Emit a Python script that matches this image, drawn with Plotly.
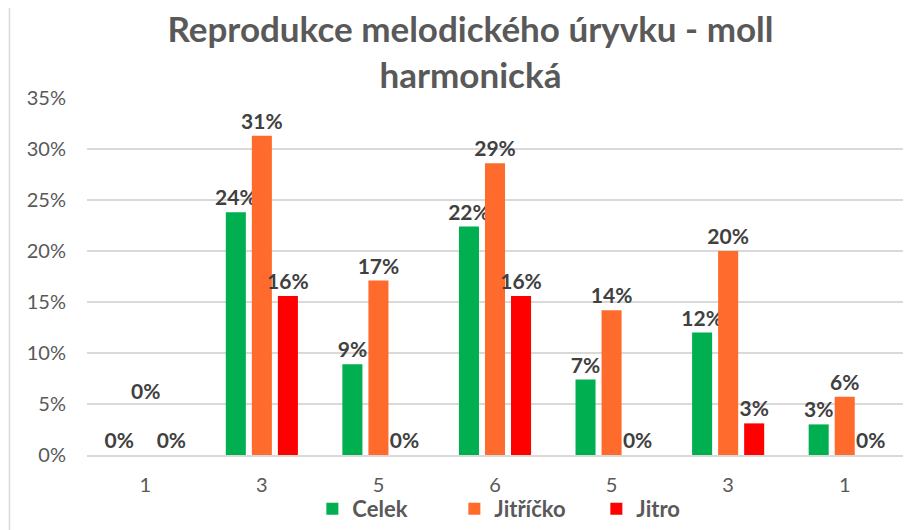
import plotly.graph_objects as go

GREEN = "#00B050"
ORANGE = "#FF6B2C"
RED = "#FF0000"
TEXT_GREY = "#595959"
LABEL_GREY = "#404040"
GRID_GREY = "#D9D9D9"

TONES = ["1", "3", "5", "6", "5", "3", "1"]
CELEK = [0.0, 0.238, 0.089, 0.224, 0.074, 0.120, 0.030]
JITRICKO = [0.0, 0.313, 0.171, 0.286, 0.142, 0.200, 0.057]
JITRO = [0.0, 0.156, 0.0, 0.156, 0.0, 0.031, 0.0]

positions = list(range(len(TONES)))
label_font = dict(size=21, color=LABEL_GREY, family="Lato", weight="bold")

fig = go.Figure()

for name, values, color in [("Celek", CELEK, GREEN),
                            ("Jitříčko", JITRICKO, ORANGE),
                            ("Jitro", JITRO, RED)]:
    labels = [f"{v:.0%}" for v in values]
    if name == "Jitříčko":
        # Excel lifted this one label out of the crowd of zeros
        labels[0] = ""
    fig.add_trace(go.Bar(x=positions,
                         y=values,
                         name=name,
                         marker=dict(color=color, line=dict(width=0)),
                         text=labels,
                         textposition="outside",
                         textfont=label_font,
                         cliponaxis=False))

fig.add_annotation(x=positions[0], y=JITRICKO[0],
                   text=f"{JITRICKO[0]:.0%}",
                   showarrow=False,
                   yanchor="bottom",
                   yshift=50,
                   font=label_font)

# the page body keeps its default 8px margin, so the figure is 8px smaller
fig.update_layout(
    width=914,
    height=522,
    plot_bgcolor="white",
    paper_bgcolor="white",
    font=dict(family="Lato", color=TEXT_GREY),
    title=dict(text="<b>Reprodukce melodického úryvku - moll<br>harmonická</b>",
               x=0.506,
               xanchor="center",
               yref="container",
               y=0.934,
               yanchor="middle",
               font=dict(size=35, color=TEXT_GREY, family="Lato")),
    barmode="group",
    bargap=0.33,
    bargroupgap=0.23,
    margin=dict(l=79, r=19, t=90, b=75, autoexpand=False),
    showlegend=True,
    legend=dict(orientation="h",
                xref="container",
                x=0.333,
                xanchor="left",
                yref="container",
                y=0.0,
                yanchor="bottom",
                bgcolor="rgba(0,0,0,0)",
                font=dict(size=22, color=TEXT_GREY, family="Lato", weight="bold"),
                itemwidth=30,
                entrywidth=97,
                tracegroupgap=0),
    uniformtext=dict(minsize=21, mode="show"))

fig.update_xaxes(tickmode="array",
                 tickvals=positions,
                 ticktext=TONES,
                 range=[-0.5, len(TONES) - 0.5],
                 showgrid=False,
                 showline=True,
                 linecolor=GRID_GREY,
                 linewidth=1.5,
                 ticks="",
                 tickfont=dict(size=20, color=TEXT_GREY),
                 ticklabelstandoff=11)

fig.update_yaxes(range=[0, 0.35],
                 dtick=0.05,
                 tickformat=".0%",
                 showgrid=True,
                 gridcolor=GRID_GREY,
                 gridwidth=1.5,
                 zeroline=False,
                 showline=False,
                 tickfont=dict(size=20, color=TEXT_GREY),
                 ticklabelstandoff=20)

fig.add_shape(type="line", xref="paper", yref="paper",
              x0=-0.095, x1=-0.095, y0=-0.25, y1=1.3,
              line=dict(color=GRID_GREY, width=1.5))

fig.write_html("out.html")
